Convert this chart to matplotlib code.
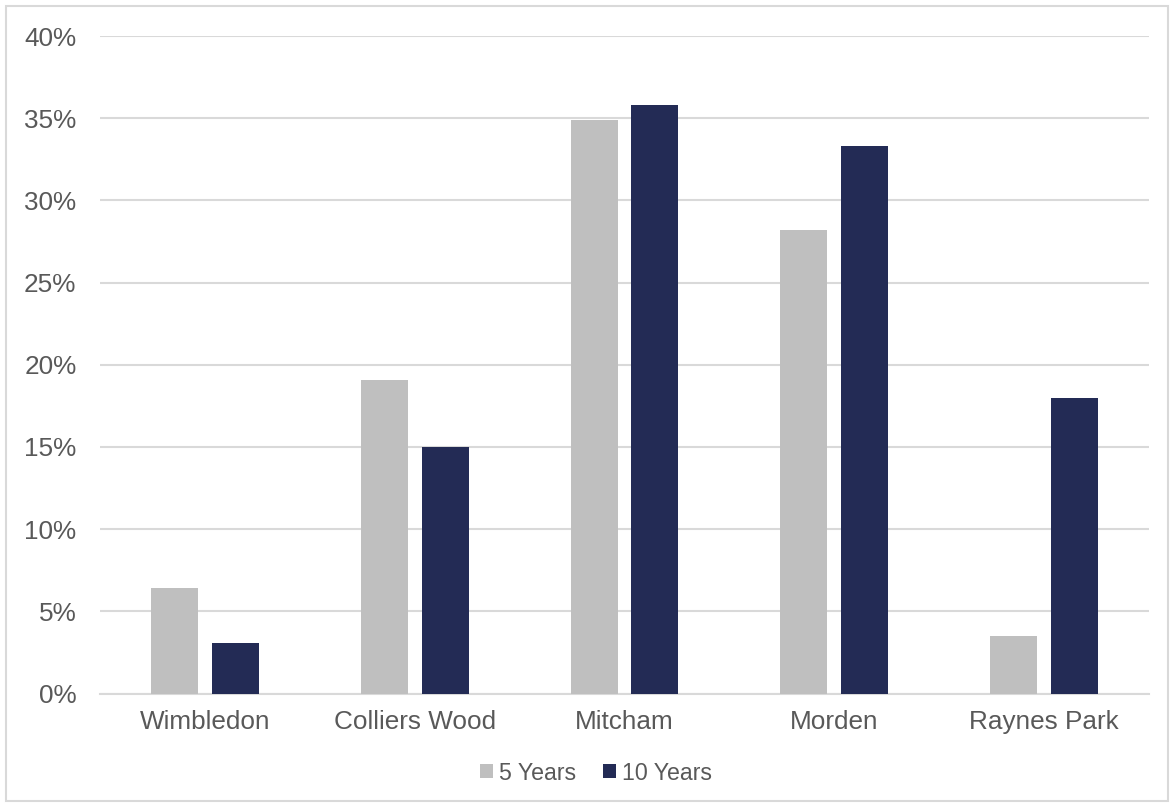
import matplotlib
matplotlib.use("Agg")
import matplotlib.pyplot as plt
import numpy as np
from matplotlib.patches import Rectangle
from matplotlib.ticker import FuncFormatter

categories = ["Wimbledon", "Colliers Wood", "Mitcham", "Morden", "Raynes Park"]
five_years = [6.4, 19.1, 34.9, 28.2, 3.5]
ten_years = [3.1, 15.0, 35.8, 33.3, 18.0]
series_names = ["5 Years", "10 Years"]
colors = ["#bfbfbf", "#232b55"]
yticks = [0, 5, 10, 15, 20, 25, 30, 35, 40]

plt.rcParams['font.family'] = ['Liberation Sans', 'DejaVu Sans']
text_color = "#595959"

fig = plt.figure(figsize=(11.75, 8.07), dpi=100)
ax = fig.add_axes([100/1175, 1 - 693.5/807, 1049/1175, (693.5-36)/807])

x = np.arange(len(categories))
w = 0.224
off = 0.145
ax.bar(x - off, five_years, w, color=colors[0], label=series_names[0], zorder=3)
ax.bar(x + off, ten_years, w, color=colors[1], label=series_names[1], zorder=3)

ax.set_xlim(-0.5, len(categories) - 0.5)
ax.set_ylim(0, 40)
ax.set_yticks(yticks)
ax.yaxis.set_major_formatter(FuncFormatter(lambda v, p: f"{v:.0f}%"))
ax.set_xticks(x)
ax.set_xticklabels(categories)
ax.grid(axis='y', color='#d9d9d9', linewidth=1.5, zorder=0)
for s in ['top', 'right', 'left']:
    ax.spines[s].set_visible(False)
ax.spines['bottom'].set_color('#d9d9d9')
ax.spines['bottom'].set_linewidth(1.5)
ax.tick_params(axis='y', length=0, pad=17, labelsize=18.8, labelcolor=text_color)
ax.tick_params(axis='x', length=0, pad=12, labelsize=18.8, labelcolor=text_color)

leg = fig.legend(loc='center', bbox_to_anchor=(596/1175, 1 - 773/807), ncol=2,
                 frameon=False, fontsize=16.7, labelcolor=text_color,
                 handlelength=0.55, handleheight=0.55, handletextpad=0.25,
                 columnspacing=1.2)

fig.patches.append(Rectangle((6/1175, 1 - 801/807), 1162/1175, 795/807,
                             transform=fig.transFigure, fill=False,
                             edgecolor='#d9d9d9', linewidth=1.5))

fig.savefig("out.png", dpi=100)
